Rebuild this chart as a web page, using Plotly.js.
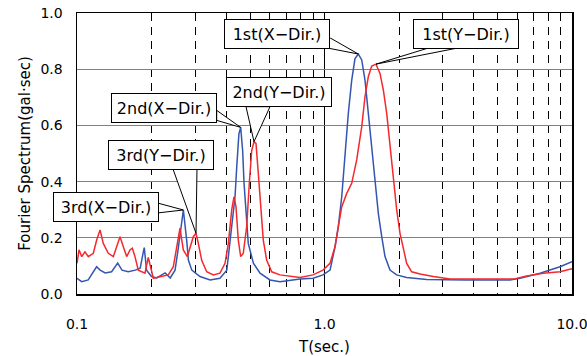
<!DOCTYPE html>
<html>
<head>
<meta charset="utf-8">
<script src="https://cdn.plot.ly/plotly-3.0.1.min.js"></script>
<style>html,body{margin:0;padding:0;background:#fff;}#chart{width:587px;height:356px;}</style>
</head>
<body>
<div id="chart"></div>
<script>
// Period T (sec.) and Fourier spectrum (gal·sec), X direction (blue)
var tX = [0.100,0.1045,0.111,0.116,0.120,0.124,0.130,0.138,0.142,0.146,0.152,0.161,0.172,0.180,0.185,0.187,0.191,0.200,0.210,0.220,0.227,0.238,0.249,0.256,0.263,0.269,0.2775,0.282,0.291,0.314,0.345,0.378,0.403,0.415,0.428,0.435,0.442,0.451,0.4585,0.467,0.473,0.482,0.492,0.516,0.549,0.602,0.661,0.796,0.899,0.986,1.053,1.103,1.137,1.174,1.210,1.248,1.288,1.328,1.370,1.414,1.458,1.503,1.551,1.600,1.650,1.703,1.756,1.839,1.957,2.148,2.432,2.588,3.754,5.616,6.165,7.426,8.945,10.0];
var fX = [0.056,0.044,0.050,0.075,0.097,0.085,0.075,0.079,0.097,0.110,0.085,0.079,0.085,0.092,0.146,0.165,0.085,0.062,0.057,0.068,0.075,0.057,0.085,0.157,0.228,0.299,0.190,0.120,0.085,0.062,0.050,0.056,0.085,0.190,0.310,0.346,0.453,0.570,0.593,0.510,0.395,0.275,0.180,0.110,0.074,0.050,0.044,0.053,0.056,0.068,0.085,0.168,0.240,0.346,0.510,0.643,0.760,0.838,0.854,0.833,0.760,0.643,0.524,0.394,0.287,0.204,0.133,0.085,0.068,0.059,0.056,0.052,0.050,0.050,0.056,0.074,0.097,0.115];
// Y direction (red)
var tY = [0.100,0.1019,0.1045,0.1077,0.1111,0.1164,0.1201,0.1239,0.1277,0.1338,0.1402,0.1447,0.1492,0.1539,0.1588,0.1637,0.1673,0.1715,0.1769,0.1882,0.1941,0.2034,0.2199,0.2338,0.2450,0.2528,0.2607,0.2689,0.2791,0.2951,0.3026,0.3092,0.3190,0.3342,0.3553,0.3783,0.3963,0.4088,0.4219,0.4309,0.4390,0.4485,0.4585,0.4697,0.4849,0.4968,0.5080,0.5190,0.5287,0.5401,0.5523,0.5658,0.5840,0.6119,0.6610,0.7962,0.8985,0.9863,1.0525,1.1026,1.1372,1.1737,1.2297,1.2881,1.3493,1.4136,1.4576,1.5031,1.5513,1.6148,1.6757,1.7285,1.7839,1.8390,1.8967,1.9570,2.0186,2.0814,2.1481,2.2503,2.4322,2.7526,3.215,4.381,5.792,6.561,7.656,8.945,10.0];
var fY = [0.109,0.157,0.133,0.150,0.133,0.145,0.192,0.228,0.180,0.145,0.133,0.168,0.204,0.168,0.133,0.157,0.163,0.133,0.085,0.074,0.130,0.056,0.062,0.068,0.097,0.168,0.234,0.157,0.133,0.204,0.216,0.180,0.120,0.079,0.068,0.074,0.109,0.180,0.300,0.346,0.310,0.192,0.133,0.145,0.240,0.394,0.510,0.542,0.536,0.430,0.300,0.192,0.120,0.079,0.068,0.059,0.068,0.085,0.109,0.168,0.240,0.310,0.358,0.394,0.477,0.595,0.702,0.773,0.811,0.818,0.785,0.726,0.643,0.524,0.406,0.300,0.216,0.157,0.109,0.079,0.071,0.062,0.053,0.053,0.053,0.064,0.074,0.079,0.090];

var xTickVals = [0.1, 1, 10];
var xTickText = ['0.1', '1.0', '10.0'];
var xMinorVals = [0.2,0.3,0.4,0.5,0.6,0.7,0.8,0.9,2,3,4,5,6,7,8,9];
var labels = ['1st(X−Dir.)','1st(Y−Dir.)','2nd(X−Dir.)','2nd(Y−Dir.)','3rd(Y−Dir.)','3rd(X−Dir.)'];

function peak(t, f, lo, hi) {
  var bi = -1;
  for (var i = 0; i < t.length; i++) {
    if (t[i] >= lo && t[i] <= hi && (bi < 0 || f[i] > f[bi])) bi = i;
  }
  return [t[bi], f[bi]];
}

// callouts: tip from data; box offset and wedge base offsets in screen px (down = +)
var callouts = [
  {tip: peak(tX, fX, 1, 2),       box: [-81, -20], w: [[-36, -7], [-28, -16]]},
  {tip: peak(tY, fY, 1, 2),       box: [90, -30],  w: [[52, -16], [81, -16]]},
  {tip: peak(tX, fX, 0.4, 0.6),   box: [-77, -19], w: [[-24, -17], [-24, -7]]},
  {tip: peak(tY, fY, 0.49, 0.6),  box: [25, -50],  w: [[-8, -35], [16, -35]]},
  {tip: peak(tY, fY, 0.29, 0.33), box: [-35, -78], w: [[-24, -67], [1, -67]]},
  {tip: peak(tX, fX, 0.25, 0.3),  box: [-77, -3],  w: [[-26, -7], [-26, 3]]}
];

var shapes = [], annotations = [];
callouts.forEach(function(c, i) {
  shapes.push({
    type: 'path', xref: 'x', yref: 'y', xsizemode: 'pixel', ysizemode: 'pixel',
    xanchor: c.tip[0], yanchor: c.tip[1], layer: 'above',
    path: 'M0,0 L' + c.w[0][0] + ',' + (-c.w[0][1]) + ' L' + c.w[1][0] + ',' + (-c.w[1][1]) + ' Z',
    fillcolor: 'white', line: {color: 'black', width: 1}
  });
  annotations.push({
    x: Math.log10(c.tip[0]), y: c.tip[1], xref: 'x', yref: 'y',
    text: labels[i], showarrow: true, arrowcolor: 'rgba(0,0,0,0)', arrowwidth: 0.1,
    ax: c.box[0], ay: c.box[1],
    font: {family: 'DejaVu Sans', size: 16, color: 'black'},
    bgcolor: 'white', bordercolor: 'black', borderwidth: 1, borderpad: 4,
    width: 96, height: 20
  });
});

var traces = [
  {x: tX, y: fX, type: 'scatter', mode: 'lines', line: {color: '#3556B0', width: 1.5}, hoverinfo: 'skip'},
  {x: tY, y: fY, type: 'scatter', mode: 'lines', line: {color: '#F5282D', width: 1.5}, hoverinfo: 'skip'}
];

var layout = {
  width: 587, height: 356,
  margin: {l: 77, r: 15, t: 13, b: 62},
  paper_bgcolor: 'white', plot_bgcolor: 'white',
  showlegend: false,
  font: {family: 'DejaVu Sans', size: 14, color: 'black'},
  xaxis: {
    type: 'log', range: [-1, 1],
    tickmode: 'array', tickvals: xTickVals, ticktext: xTickText,
    showgrid: true, gridcolor: 'black', gridwidth: 1,
    minor: {tickmode: 'array', tickvals: xMinorVals, showgrid: true, gridcolor: 'black', gridwidth: 1, griddash: '8px,6px', ticks: ''},
    showline: true, mirror: true, linecolor: 'black', linewidth: 1.5,
    ticks: '', ticklabelstandoff: 17, ticklabeloverflow: 'allow', zeroline: false,
    tickfont: {family: 'DejaVu Sans', size: 14},
    title: {text: 'T(sec.)', font: {family: 'DejaVu Sans', size: 15}, standoff: 11}
  },
  yaxis: {
    range: [0, 1], dtick: 0.2, tick0: 0, tickformat: '.1f',
    showgrid: true, gridcolor: '#808080', gridwidth: 1,
    showline: true, mirror: true, linecolor: 'black', linewidth: 1.5,
    ticks: '', ticklabelstandoff: 10, zeroline: false,
    tickfont: {family: 'DejaVu Sans', size: 14},
    title: {text: 'Fourier Spectrum(gal·sec)', font: {family: 'DejaVu Sans', size: 15}, standoff: 6}
  },
  shapes: shapes,
  annotations: annotations
};

Plotly.newPlot('chart', traces, layout, {staticPlot: true, displayModeBar: false});
</script>
</body>
</html>
